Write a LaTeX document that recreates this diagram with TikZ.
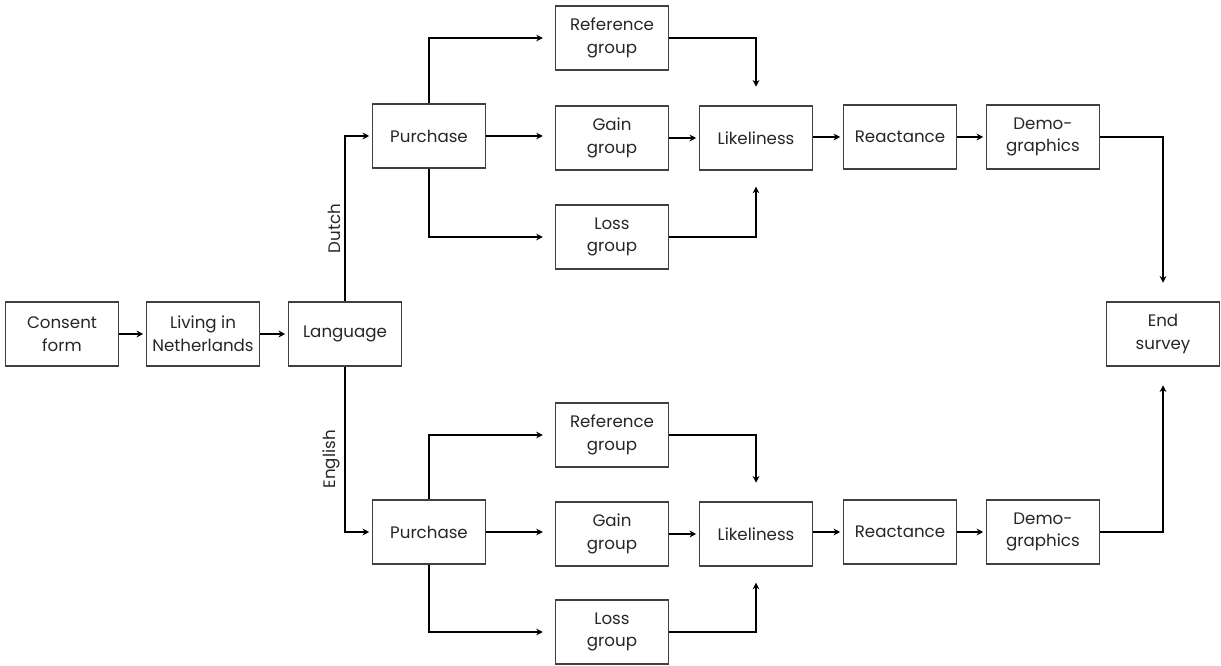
\documentclass[tikz,border=0pt]{standalone}
\usepackage{fontspec}
\setmainfont{Poppins}
\usetikzlibrary{arrows.meta}
\begin{document}
\begin{tikzpicture}[x=0.75pt,y=-0.75pt,
  box/.style={draw=black!75,line width=0.9pt,minimum width=84.75pt,minimum height=48pt,inner sep=0pt,align=center,font=\fontsize{12.5}{17}\selectfont,text=black!85},
  arr/.style={line width=1.2pt,-{Stealth[length=5pt,width=5pt]},shorten >=2pt},
  lab/.style={font=\fontsize{12.5}{14}\selectfont,text=black!85,rotate=90,anchor=south,inner sep=3pt}]
\useasboundingbox (0,0) rectangle (1221,666);
\node[box] (cf) at (62,334) {Consent\\form};
\node[box] (liv) at (203,334) {Living in\\Netherlands};
\node[box] (lang) at (345,334) {Language};
\node[box] (end) at (1163,334) {End\\survey};
% top branch
\node[box] (p1) at (429,136) {Purchase};
\node[box] (r1) at (612,38) {Reference\\group};
\node[box] (g1) at (612,138) {Gain\\group};
\node[box] (s1) at (612,237) {Loss\\group};
\node[box] (l1) at (756,138) {Likeliness};
\node[box] (re1) at (900,137) {Reactance};
\node[box] (d1) at (1043,137) {Demo-\\graphics};
% bottom branch
\node[box] (p2) at (429,532) {Purchase};
\node[box] (r2) at (612,435) {Reference\\group};
\node[box] (g2) at (612,534) {Gain\\group};
\node[box] (s2) at (612,632) {Loss\\group};
\node[box] (l2) at (756,534) {Likeliness};
\node[box] (re2) at (900,532) {Reactance};
\node[box] (d2) at (1043,532) {Demo-\\graphics};
% main
\draw[arr] (cf) -- (liv);
\draw[arr] (liv) -- (lang);
\draw[arr] (lang.north) |- node[lab,pos=0.22] {Dutch} (p1.west);
\draw[arr] (lang.south) |- node[lab,pos=0.28] {English} (p2.west);
% top
\draw[arr,shorten >=9pt] (p1.north) |- (r1.west);
\draw[arr,shorten >=9pt] (p1.east) -- (p1.east -| g1.west);
\draw[arr,shorten >=9pt] (p1.south) |- (s1.west);
\draw[arr,shorten >=14pt] (r1.east) -| (l1.north);
\draw[arr] (g1) -- (l1);
\draw[arr,shorten >=12pt] (s1.east) -| (l1.south);
\draw[arr] (l1.east |- re1.west) -- (re1.west);
\draw[arr] (re1) -- (d1);
\draw[arr,shorten >=14pt] (d1.east) -| (end.north);
% bottom
\draw[arr,shorten >=9pt] (p2.north) |- (r2.west);
\draw[arr,shorten >=9pt] (p2.east) -- (p2.east -| g2.west);
\draw[arr,shorten >=9pt] (p2.south) |- (s2.west);
\draw[arr,shorten >=14pt] (r2.east) -| (l2.north);
\draw[arr] (g2) -- (l2);
\draw[arr,shorten >=12pt] (s2.east) -| (l2.south);
\draw[arr] (l2.east |- re2.west) -- (re2.west);
\draw[arr] (re2) -- (d2);
\draw[arr,shorten >=14pt] (d2.east) -| (end.south);
\end{tikzpicture}
\end{document}
